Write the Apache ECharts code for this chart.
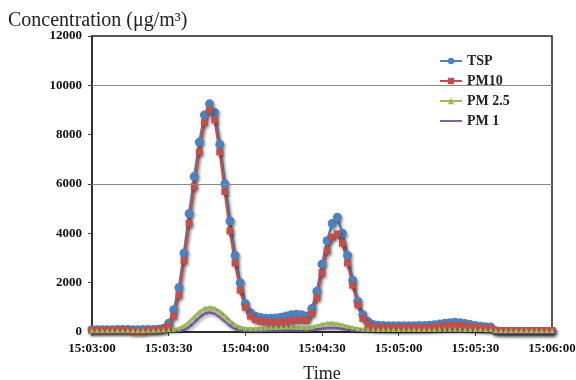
<!DOCTYPE html>
<html>
<head>
<meta charset="utf-8">
<script src="https://cdn.jsdelivr.net/npm/echarts@6/dist/echarts.min.js"></script>
<style>
  html, body { margin: 0; padding: 0; background: #fff; }
  #chart { width: 576px; height: 380px; }
</style>
</head>
<body>
<div id="chart"></div>
<script>
// seconds after 15:03:00
var timeSec = [0, 2, 4, 6, 8, 10, 12, 14, 16, 18, 20, 22, 24, 26, 28, 30, 32, 34, 36, 38,
  40, 42, 44, 46, 48, 50, 52, 54, 56, 58, 60, 62, 64, 66, 68, 70, 72, 74, 76, 78,
  80, 82, 84, 86, 88, 90, 92, 94, 96, 98, 100, 102, 104, 106, 108, 110, 112, 114, 116, 118,
  120, 122, 124, 126, 128, 130, 132, 134, 136, 138, 140, 142, 144, 146, 148, 150, 152, 154, 156, 158,
  160, 162, 164, 166, 168, 170, 172, 174, 176, 178, 180];

var xTickLabels = ["15:03:00", "15:03:30", "15:04:00", "15:04:30", "15:05:00", "15:05:30", "15:06:00"];
var gridLines = [6000, 10000];

var tsp = [90, 90, 95, 95, 95, 100, 100, 100, 95, 95, 100, 100, 100, 110,
  150, 350, 900, 1800, 3200, 4800, 6300, 7700, 8800, 9250,
  8900, 7600, 6000, 4500, 3100, 2000, 1150, 780, 640, 590,
  560, 560, 570, 600, 650, 700, 720, 700, 650, 950,
  1650, 2750, 3700, 4400, 4650, 4000, 3100, 2100, 1250, 700,
  420, 300, 270, 260, 250, 250, 250, 250, 255, 255,
  260, 265, 275, 295, 320, 350, 380, 395, 380, 345,
  300, 265, 235, 215, 200, 40,
  20, 20, 20, 20, 20, 20, 20, 20, 20, 20, 20];

var pm10 = [70, 70, 75, 75, 75, 80, 80, 70, 20, 20, 20, 70, 80, 90,
  120, 250, 650, 1500, 2900, 4400, 5900, 7300, 8500, 9000,
  8600, 7300, 5700, 4100, 2800, 1700, 1000, 650, 500, 440,
  410, 400, 400, 400, 420, 450, 480, 490, 470, 750,
  1400, 2400, 3300, 3850, 3980, 3600, 2800, 1900, 1100, 550,
  300, 200, 180, 175, 170, 170, 170, 170, 170, 170,
  170, 175, 180, 195, 215, 240, 260, 270, 260, 235,
  210, 190, 170, 160, 150, 70,
  60, 60, 60, 60, 60, 60, 60, 60, 60, 60, 60];

var pm25 = [60, 60, 60, 60, 60, 60, 60, 60, 60, 60, 60, 60, 60, 70,
  80, 90, 110, 150, 250, 420, 620, 820, 960, 1000,
  960, 840, 650, 450, 290, 190, 150, 140, 140, 150,
  160, 170, 180, 190, 200, 200, 190, 180, 170, 200,
  260, 320, 360, 370, 340, 290, 230, 180, 140, 120,
  110, 100, 100, 100, 100, 100, 100, 100, 100, 100,
  100, 100, 100, 100, 110, 110, 110, 110, 110, 100,
  100, 100, 100, 90, 90, 60,
  60, 60, 60, 60, 60, 60, 60, 60, 60, 60, 60];

var pm1 = [30, 30, 30, 30, 30, 30, 30, 30, 30, 30, 30, 30, 30, 30,
  30, 30, 30, 40, 80, 200, 380, 580, 730, 790,
  740, 600, 420, 250, 130, 60, 40, 40, 40, 40,
  50, 50, 50, 50, 60, 60, 60, 60, 60, 70,
  100, 130, 150, 160, 150, 120, 90, 60, 50, 40,
  40, 40, 40, 40, 40, 40, 40, 40, 40, 40,
  40, 40, 40, 40, 40, 40, 40, 40, 40, 40,
  40, 40, 40, 40, 40, 40,
  30, 30, 30, 30, 30, 30, 30, 30, 30, 30, 30];

function pairs(vals) {
  return timeSec.map(function (t, i) { return [t, vals[i]]; });
}

var serif = "Liberation Serif";
var shadow = { shadowColor: "rgba(0,0,0,0.35)", shadowBlur: 3, shadowOffsetX: 1.5, shadowOffsetY: 2 };

function makeSeries(name, vals, color, symbol, size) {
  return {
    name: name,
    type: "line",
    data: pairs(vals),
    symbol: symbol,
    symbolSize: size,
    showSymbol: symbol !== "none",
    color: color,
    lineStyle: Object.assign({ width: 2.5, color: color }, shadow),
    itemStyle: Object.assign({ color: color }, shadow),
    animation: false
  };
}

var chart = echarts.init(document.getElementById("chart"));

var series = [
  makeSeries("TSP", tsp, "#4F81BD", "circle", 9),
  makeSeries("PM10", pm10, "#C0504D", "rect", 7),
  makeSeries("PM 2.5", pm25, "#9BBB59", "triangle", 5),
  makeSeries("PM 1", pm1, "#8064A2", "none", 0)
];
// the two horizontal reference lines
series[0].markLine = {
  silent: true,
  symbol: "none",
  label: { show: false },
  lineStyle: { color: "#888", width: 1, type: "solid", shadowBlur: 0, shadowOffsetX: 0, shadowOffsetY: 0 },
  data: gridLines.map(function (v) { return { yAxis: v }; })
};

chart.setOption({
  animation: false,
  title: {
    text: "Concentration (\u03bcg/m\u00b3)",
    left: 3,
    top: 6,
    textStyle: { fontFamily: serif, fontSize: 20, fontWeight: "normal", color: "#222" }
  },
  legend: {
    orient: "vertical",
    left: 434,
    top: 49,
    itemWidth: 22,
    itemHeight: 8,
    itemGap: 6,
    textStyle: { fontFamily: serif, fontSize: 14, fontWeight: "bold", color: "#222" },
    data: ["TSP", "PM10", "PM 2.5", { name: "PM 1", itemStyle: { opacity: 0 } }]
  },
  grid: {
    left: 92,
    right: 24,
    top: 36,
    bottom: 48,
    outerBoundsMode: "none",
    show: true,
    borderColor: "#222",
    borderWidth: 1.5
  },
  xAxis: {
    type: "value",
    min: 0,
    max: 180,
    interval: 30,
    name: "Time",
    nameLocation: "middle",
    nameGap: 33,
    nameTextStyle: { fontFamily: serif, fontSize: 18, color: "#222" },
    axisLine: { lineStyle: { color: "#222", width: 1.5 } },
    axisTick: { show: true, length: 4, lineStyle: { color: "#444" } },
    splitLine: { show: false },
    axisLabel: {
      margin: 10,
      fontFamily: serif,
      fontSize: 13,
      fontWeight: "bold",
      color: "#111",
      formatter: function (v) { return xTickLabels[Math.round(v / 30)]; }
    }
  },
  yAxis: {
    type: "value",
    min: 0,
    max: 12000,
    interval: 2000,
    axisLine: { show: true, lineStyle: { color: "#222", width: 1.5 } },
    axisTick: { show: true, length: 4, lineStyle: { color: "#444" } },
    splitLine: { show: false },
    axisLabel: {
      margin: 10,
      fontFamily: serif,
      fontSize: 13,
      fontWeight: "bold",
      color: "#111",
      formatter: function (v) { return String(v); }
    }
  },
  series: series
});
</script>
</body>
</html>
